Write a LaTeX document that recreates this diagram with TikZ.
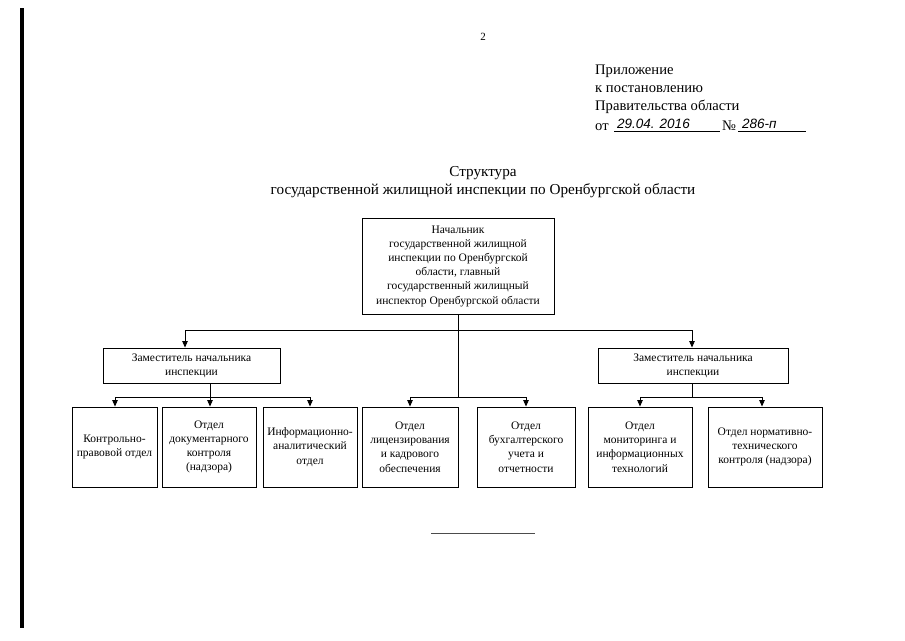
\documentclass[tikz,border=0pt]{standalone}
\usepackage{fontspec}
\setmainfont{Liberation Serif}
\newfontfamily\hand{Liberation Sans}
\usetikzlibrary{arrows.meta}
\begin{document}
\begin{tikzpicture}[x=1pt,y=-1pt,
  box/.style={draw,line width=0.9pt,inner sep=0pt,align=center,font=\fontsize{11.5}{14.2}\selectfont},
  arr/.style={line width=0.9pt,-{Triangle[length=6.5pt,width=5.5pt]}},
  ln/.style={line width=0.9pt},
  hw/.style={font=\hand\itshape\fontsize{13.5}{15}\selectfont,inner sep=0pt,anchor=base west},
  hdr/.style={font=\fontsize{14.6}{18}\selectfont,inner sep=0pt}]
\useasboundingbox (0,0) rectangle (905,640);
\fill[white] (0,0) rectangle (905,640);
% left binding bar
\coordinate (barT) at (22,8);
\coordinate (barB) at (22,628);
\draw[line width=3.5pt] (barT) -- (barB);
% page number
\node[font=\fontsize{11}{13}\selectfont] (pg) at (483,37) {2};
% header
\node[hdr,anchor=north west,align=left] (app) at (595,65) {Приложение\\к постановлению\\Правительства области};
\node[hdr,anchor=base west] (ot) at (595,130) {от};
\node[hw] (date) at (617,128) {29.04. 2016};
\node[hdr,anchor=base west] (no) at (722,130) {№};
\node[hw] (num) at (742,128) {286-п};
\coordinate (u1a) at (614,131); \coordinate (u1b) at (720,131);
\coordinate (u2a) at (738,131); \coordinate (u2b) at (806,131);
\draw[line width=0.6pt] (u1a) -- (u1b);
\draw[line width=0.6pt] (u2a) -- (u2b);
% title
\node[font=\fontsize{15.2}{17.5}\selectfont,align=center] (title) at (483,182) {Структура\\государственной жилищной инспекции по Оренбургской области};
% boxes
\node[box,minimum width=192pt,minimum height=96pt] (top) at (458,266) {Начальник\\государственной жилищной\\инспекции по Оренбургской\\области, главный\\государственный жилищный\\инспектор Оренбургской области};
\node[box,minimum width=177pt,minimum height=35pt] (depL) at (191.5,365.5) {Заместитель начальника\\инспекции};
\node[box,minimum width=190pt,minimum height=35pt] (depR) at (693,365.5) {Заместитель начальника\\инспекции};
\node[box,minimum width=85pt,minimum height=80pt] (c1) at (114.5,447) {Контрольно-\\правовой отдел};
\node[box,minimum width=94pt,minimum height=80pt] (c2) at (209,447) {Отдел\\документарного\\контроля\\(надзора)};
\node[box,minimum width=94pt,minimum height=80pt] (c3) at (310,447) {Информационно-\\аналитический\\отдел};
\node[box,minimum width=96pt,minimum height=80pt] (c4) at (410,447) {Отдел\\лицензирования\\и кадрового\\обеспечения};
\node[box,minimum width=98pt,minimum height=80pt] (c5) at (526,447) {Отдел\\бухгалтерского\\учета и\\отчетности};
\node[box,minimum width=104pt,minimum height=80pt] (c6) at (640,447) {Отдел\\мониторинга и\\информационных\\технологий};
\node[box,minimum width=114pt,minimum height=80pt] (c7) at (765,447) {Отдел нормативно-\\технического\\контроля (надзора)};
% bus coordinates
\coordinate (hL) at (185,330);
\coordinate (hR) at (692,330);
\coordinate (hC) at (458,397);
\coordinate (gC4) at (410,397);
\coordinate (gC5) at (526,397);
\coordinate (gL) at (210,397);
\coordinate (gL1) at (115,397);
\coordinate (gL3) at (310,397);
\coordinate (gR) at (692,397);
\coordinate (gR6) at (640,397);
\coordinate (gR7) at (762,397);
% top level
\draw[ln] (hL) -- (hR);
\draw[ln] (top.south) -- (hC);
\draw[arr] (hL) -- (hL |- depL.north);
\draw[arr] (hR) -- (hR |- depR.north);
% center group
\draw[ln] (gC4) -- (gC5);
\draw[arr] (gC4) -- (gC4 |- c4.north);
\draw[arr] (gC5) -- (gC5 |- c5.north);
% left group
\draw[ln] (gL |- depL.south) -- (gL);
\draw[ln] (gL1) -- (gL3);
\draw[arr] (gL1) -- (gL1 |- c1.north);
\draw[arr] (gL) -- (gL |- c2.north);
\draw[arr] (gL3) -- (gL3 |- c3.north);
% right group
\draw[ln] (gR |- depR.south) -- (gR);
\draw[ln] (gR6) -- (gR7);
\draw[arr] (gR6) -- (gR6 |- c6.north);
\draw[arr] (gR7) -- (gR7 |- c7.north);
% bottom rule
\coordinate (bl1) at (431,533);
\coordinate (bl2) at (535,533);
\draw[line width=1pt,black!70] (bl1) -- (bl2);
\end{tikzpicture}
\end{document}
